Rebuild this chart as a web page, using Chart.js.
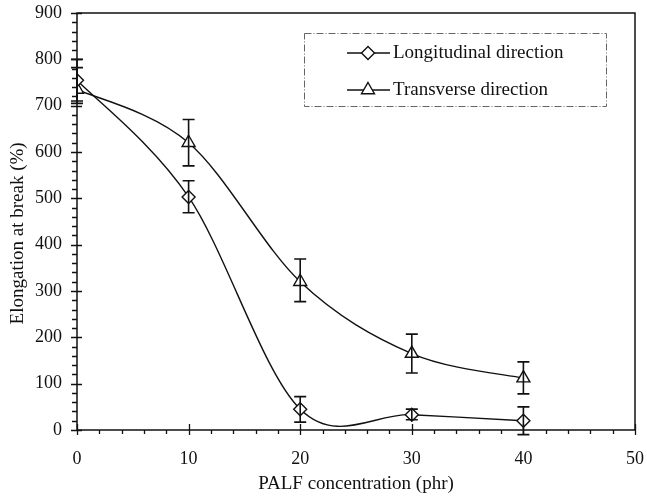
<!DOCTYPE html>
<html lang="en">
<head>
    <meta charset="UTF-8">
    <title>Elongation at break vs PALF concentration</title>
    <style>
        body {
            margin: 0;
            padding: 0;
            background-color: #fff;
        }
        #elong-chart {
            display: block;
        }
    </style>
</head>
<body>
    <canvas id="elong-chart" width="647" height="497"></canvas>

    <script src="https://cdn.jsdelivr.net/npm/chart.js"></script>
    <script>
        // PALF concentration (phr)
        const concentrations = [0, 10, 20, 30, 40];

        // Longitudinal direction
        const longValues = [755, 503, 45, 33, 20];
        const longErrHigh = [800, 538, 72, 45, 50];
        const longErrLow = [710, 469, 17, 22, -10];

        // Transverse direction
        const transValues = [735, 620, 320, 165, 112];
        const transErrHigh = [782, 670, 369, 207, 147];
        const transErrLow = [705, 570, 277, 123, 78];

        const seriesNames = ['Longitudinal direction', 'Transverse direction'];

        const serif = "'Liberation Serif', 'DejaVu Serif', serif";

        function toPoints(values) {
            return concentrations.map((x, i) => ({ x: x, y: values[i] }));
        }

        // Excel style smoothing: uniform Catmull-Rom control points
        // (replaces the distance weighted ones Chart.js computes)
        const smoothLines = {
            id: 'smoothLines',
            beforeDatasetsDraw(chart) {
                chart.data.datasets.forEach((ds, di) => {
                    const meta = chart.getDatasetMeta(di);
                    const pts = meta.dataset.points; // forces Chart.js to build its own first
                    const n = pts.length;
                    for (let i = 0; i < n; i++) {
                        const prev = pts[Math.max(i - 1, 0)];
                        const next = pts[Math.min(i + 1, n - 1)];
                        const dx = (next.x - prev.x) / 6;
                        const dy = (next.y - prev.y) / 6;
                        pts[i].cp1x = pts[i].x - dx;
                        pts[i].cp1y = pts[i].y - dy;
                        pts[i].cp2x = pts[i].x + dx;
                        pts[i].cp2y = pts[i].y + dy;
                    }
                });
            }
        };

        // error bars, drawn over the lines like in the original figure
        const errorBars = {
            id: 'errorBars',
            afterDatasetsDraw(chart) {
                const ctx = chart.ctx;
                const xs = chart.scales.x, ys = chart.scales.y;
                const sets = [[longErrLow, longErrHigh], [transErrLow, transErrHigh]];
                ctx.save();
                ctx.strokeStyle = '#111';
                ctx.lineWidth = 1.6;
                sets.forEach(([low, high]) => {
                    concentrations.forEach((c, i) => {
                        const px = xs.getPixelForValue(c);
                        const top = ys.getPixelForValue(high[i]);
                        const bot = ys.getPixelForValue(low[i]);
                        ctx.beginPath();
                        ctx.moveTo(px, top); ctx.lineTo(px, bot);
                        ctx.moveTo(px - 6, top); ctx.lineTo(px + 6, top);
                        ctx.moveTo(px - 6, bot); ctx.lineTo(px + 6, bot);
                        ctx.stroke();
                    });
                });
                ctx.restore();
            }
        };

        // box frame plus major / minor tick marks
        const frameTicks = {
            id: 'frameTicks',
            afterDraw(chart) {
                const ctx = chart.ctx;
                const a = chart.chartArea;
                const xs = chart.scales.x, ys = chart.scales.y;
                ctx.save();
                ctx.strokeStyle = '#111';
                ctx.lineWidth = 1.5;
                ctx.strokeRect(a.left, a.top, a.right - a.left, a.bottom - a.top);

                ctx.lineWidth = 1.3;
                ctx.beginPath();
                for (let v = 0; v <= 900; v += 20) {
                    const py = Math.round(ys.getPixelForValue(v)) + 0.5;
                    if (v % 100 === 0) {
                        ctx.moveTo(a.left - 6, py); ctx.lineTo(a.left + 5, py);
                    } else {
                        ctx.moveTo(a.left - 5, py); ctx.lineTo(a.left, py);
                    }
                }
                for (let v = 0; v <= 50; v += 2) {
                    const px = Math.round(xs.getPixelForValue(v)) + 0.5;
                    if (v % 10 === 0) {
                        ctx.moveTo(px, a.bottom - 6); ctx.lineTo(px, a.bottom + 5);
                    } else {
                        ctx.moveTo(px, a.bottom); ctx.lineTo(px, a.bottom + 4);
                    }
                }
                ctx.stroke();
                ctx.restore();
            }
        };

        // legend box inside the plot, dash-dot border
        const boxLegend = {
            id: 'boxLegend',
            afterDraw(chart) {
                const ctx = chart.ctx;
                ctx.save();
                ctx.strokeStyle = '#666';
                ctx.lineWidth = 1;
                ctx.setLineDash([7, 2, 1, 2]);
                ctx.strokeRect(304.5, 33.5, 302, 73);
                ctx.setLineDash([]);

                const rows = [53, 90];
                chart.data.datasets.forEach((ds, i) => {
                    const y = rows[i];
                    ctx.strokeStyle = '#111';
                    ctx.lineWidth = 1.3;
                    ctx.beginPath();
                    ctx.moveTo(347, y); ctx.lineTo(390, y);
                    ctx.stroke();
                    ctx.fillStyle = '#fff';
                    ctx.lineWidth = ds.pointBorderWidth;
                    Chart.helpers.drawPoint(ctx, {
                        pointStyle: ds.pointStyle,
                        radius: ds.pointRadius,
                        borderWidth: ds.pointBorderWidth,
                        rotation: 0
                    }, 368, y);
                    ctx.fillStyle = '#111';
                    ctx.font = '19px ' + serif;
                    ctx.textBaseline = 'middle';
                    ctx.textAlign = 'left';
                    ctx.fillText(ds.label, 393, y);
                });
                ctx.restore();
            }
        };

        const ctx = document.getElementById('elong-chart').getContext('2d');

        new Chart(ctx, {
            type: 'scatter',
            data: {
                datasets: [{
                    label: seriesNames[0],
                    data: toPoints(longValues),
                    showLine: true,
                    tension: 0.4,
                    borderColor: '#111',
                    borderWidth: 1.4,
                    pointStyle: 'rectRot',
                    pointRadius: 6.5,
                    pointBorderWidth: 1.4,
                    pointBorderColor: '#111',
                    pointBackgroundColor: '#fff'
                }, {
                    label: seriesNames[1],
                    data: toPoints(transValues),
                    showLine: true,
                    tension: 0.4,
                    borderColor: '#111',
                    borderWidth: 1.4,
                    pointStyle: 'triangle',
                    pointRadius: 7.5,
                    pointBorderWidth: 1.4,
                    pointBorderColor: '#111',
                    pointBackgroundColor: '#fff'
                }]
            },
            options: {
                responsive: false,
                animation: false,
                layout: {
                    padding: { top: 13, right: 12, left: 0, bottom: 0 }
                },
                plugins: {
                    legend: { display: false },
                    tooltip: { enabled: false }
                },
                scales: {
                    x: {
                        type: 'linear',
                        min: 0,
                        max: 50,
                        afterFit: function(scale) {
                            scale.height = 67;
                            scale.paddingLeft = 0;
                            scale.paddingRight = 0;
                        },
                        grid: { display: false, drawTicks: false },
                        border: { display: false },
                        ticks: {
                            stepSize: 10,
                            padding: 18,
                            color: '#111',
                            font: { family: serif, size: 18 }
                        },
                        title: {
                            display: true,
                            text: 'PALF concentration (phr)',
                            color: '#111',
                            font: { family: serif, size: 19 },
                            padding: { top: 0, bottom: 2 }
                        }
                    },
                    y: {
                        min: 0,
                        max: 900,
                        afterFit: function(scale) {
                            scale.width = 77;
                            scale.paddingTop = 0;
                            scale.paddingBottom = 0;
                        },
                        grid: { display: false, drawTicks: false },
                        border: { display: false },
                        ticks: {
                            stepSize: 100,
                            padding: 15,
                            color: '#111',
                            font: { family: serif, size: 18 }
                        },
                        title: {
                            display: true,
                            text: 'Elongation at break (%)     ',
                            color: '#111',
                            font: { family: serif, size: 19 },
                            padding: { top: 7, bottom: 0 }
                        }
                    }
                }
            },
            plugins: [smoothLines, errorBars, frameTicks, boxLegend]
        });
    </script>
</body>
</html>
